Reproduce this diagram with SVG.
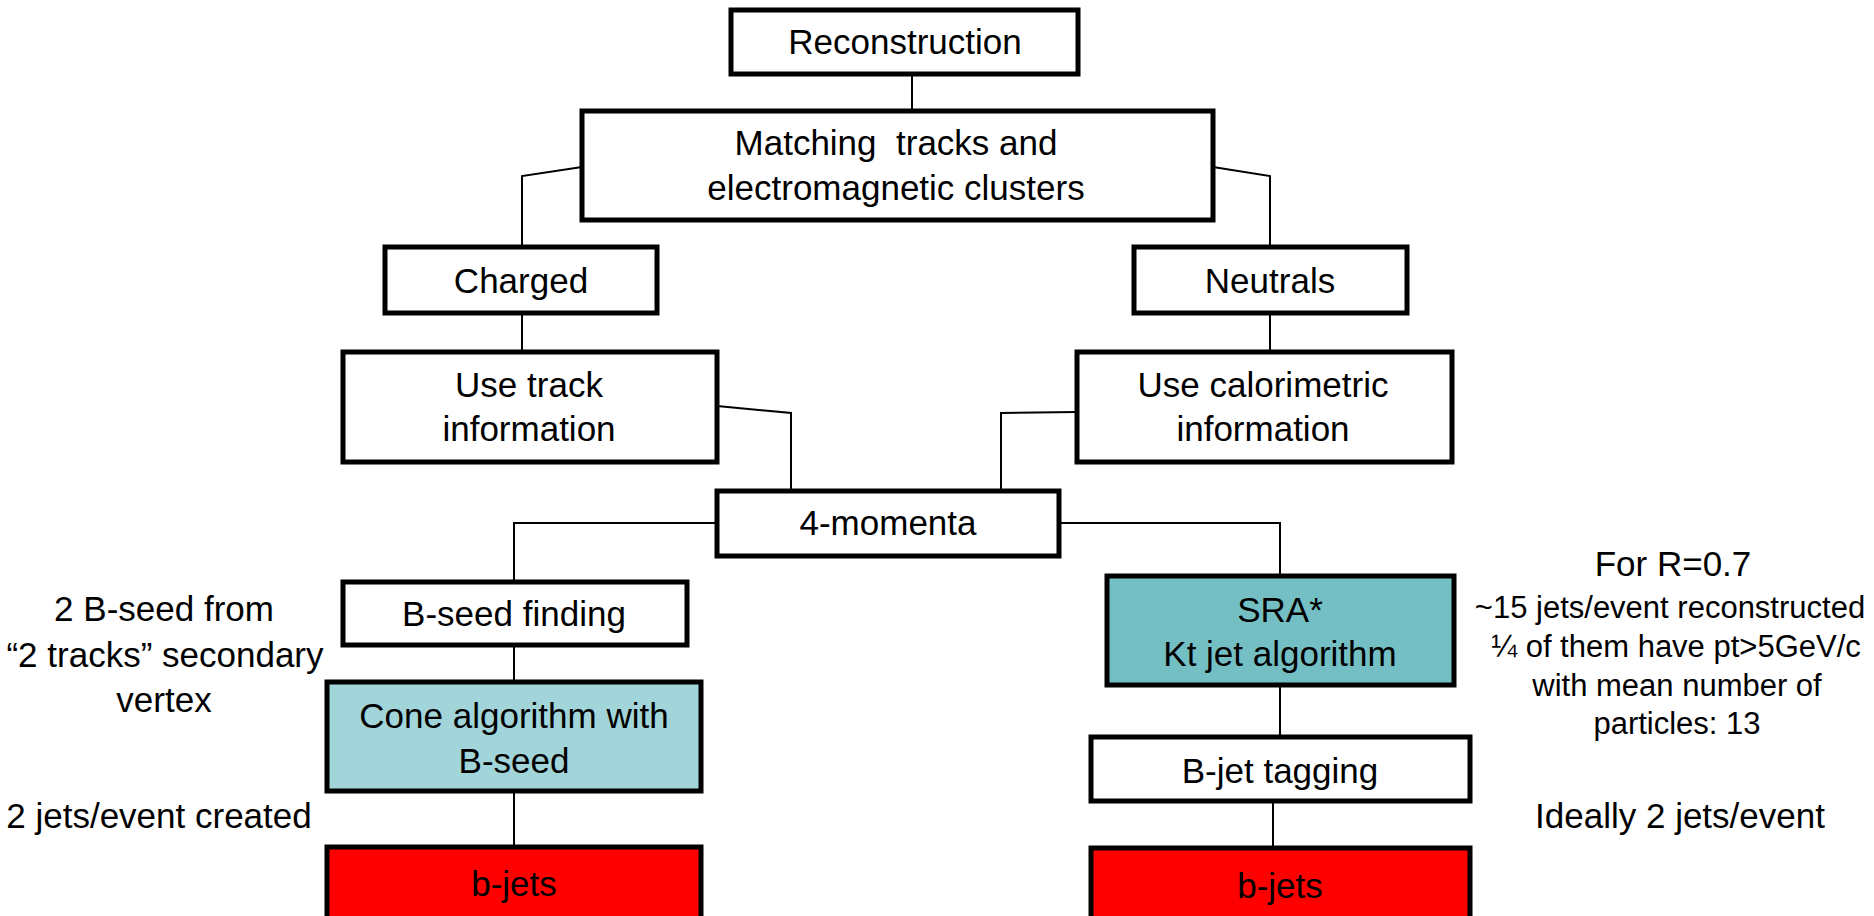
<svg xmlns="http://www.w3.org/2000/svg" width="1874" height="916" viewBox="0 0 1874 916">
<style>
.box{stroke:#000;stroke-width:5;fill:#fff}
.cone{fill:#a1d5d9}
.sra{fill:#73bfc4}
.red{fill:#ff0000}
.t{font-family:"Liberation Sans",Arial,sans-serif;font-size:35px;fill:#000;text-anchor:middle}
.s{font-size:31px}
.conn{stroke:#000;stroke-width:2;fill:none}
</style>
<rect width="1874" height="916" fill="#fff"/>
<g id="connectors">
<path class="conn" d="M912 76V111"/>
<path class="conn" d="M582 167L522 176V247"/>
<path class="conn" d="M1213 167L1270 176V247"/>
<path class="conn" d="M522 313V352"/>
<path class="conn" d="M1270 313V352"/>
<path class="conn" d="M717 406L791 413V491"/>
<path class="conn" d="M1077 412L1001 413V491"/>
<path class="conn" d="M717 523H514V582"/>
<path class="conn" d="M1059 523H1280V576"/>
<path class="conn" d="M514 645V682"/>
<path class="conn" d="M514 791V847"/>
<path class="conn" d="M1280 685V737"/>
<path class="conn" d="M1273 801V848"/>
</g>
<g id="reconstruction"><rect class="box" x="731" y="10" width="347" height="64"/><text class="t" x="905" y="54">Reconstruction</text></g>
<g id="matching"><rect class="box" x="582" y="111" width="631" height="109"/><text class="t" x="896" y="155" xml:space="preserve">Matching  tracks and</text><text class="t" x="896" y="200">electromagnetic clusters</text></g>
<g id="charged"><rect class="box" x="385" y="247" width="272" height="66"/><text class="t" x="521" y="293">Charged</text></g>
<g id="neutrals"><rect class="box" x="1134" y="247" width="273" height="66"/><text class="t" x="1270" y="293">Neutrals</text></g>
<g id="usetrack"><rect class="box" x="343" y="352" width="374" height="110"/><text class="t" x="529" y="397">Use track</text><text class="t" x="529" y="441">information</text></g>
<g id="usecalo"><rect class="box" x="1077" y="352" width="375" height="110"/><text class="t" x="1263" y="397">Use calorimetric</text><text class="t" x="1263" y="441">information</text></g>
<g id="fourmomenta"><rect class="box" x="717" y="491" width="342" height="65"/><text class="t" x="888" y="535">4-momenta</text></g>
<g id="bseed"><rect class="box" x="343" y="582" width="344" height="63"/><text class="t" x="514" y="626">B-seed finding</text></g>
<g id="cone"><rect class="box cone" x="327" y="682" width="374" height="109"/><text class="t" x="514" y="728">Cone algorithm with</text><text class="t" x="514" y="773">B-seed</text></g>
<g id="bjets-left"><rect class="box red" x="327" y="847" width="374" height="72"/><text class="t" x="514" y="896">b-jets</text></g>
<g id="sra"><rect class="box sra" x="1107" y="576" width="347" height="109"/><text class="t" x="1280" y="622">SRA*</text><text class="t" x="1280" y="666">Kt jet algorithm</text></g>
<g id="bjettag"><rect class="box" x="1091" y="737" width="379" height="64"/><text class="t" x="1280" y="783">B-jet tagging</text></g>
<g id="bjets-right"><rect class="box red" x="1091" y="848" width="379" height="71"/><text class="t" x="1280" y="898">b-jets</text></g>
<g id="note-left"><text class="t" x="164" y="621">2 B-seed from</text><text class="t" x="165" y="667">“2 tracks” secondary</text><text class="t" x="164" y="712">vertex</text><text class="t" x="159" y="828">2 jets/event created</text></g>
<g id="note-right"><text class="t" x="1673" y="576">For R=0.7</text><text class="t s" x="1670" y="618">~15 jets/event reconstructed</text><text class="t s" x="1676" y="657">¼ of them have pt&gt;5GeV/c</text><text class="t s" x="1677" y="696">with mean number of</text><text class="t s" x="1677" y="734">particles: 13</text><text class="t" x="1680" y="828">Ideally 2 jets/event</text></g>
</svg>
